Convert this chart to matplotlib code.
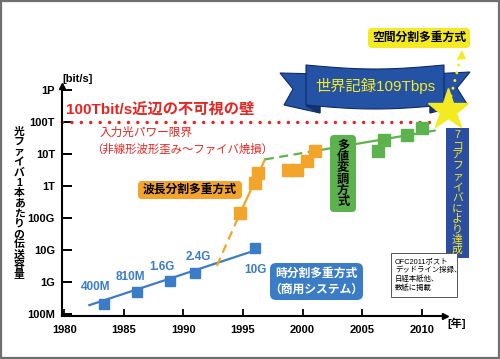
import numpy as np
import matplotlib
matplotlib.use('Agg')
import matplotlib.pyplot as plt
from matplotlib.patches import Polygon, FancyBboxPatch, Rectangle

plt.rcParams['font.family'] = ['Liberation Sans', 'Noto Sans CJK JP', 'DejaVu Sans']

# ---------------- data ----------------
tdm_years = [1983.3, 1986.1, 1988.9, 1991.0, 1996.0]
tdm_rates = [2.1e8, 5.0e8, 1.1e9, 1.9e9, 1.2e10]
tdm_labels = ['400M', '810M', '1.6G', '2.4G', '10G']
tdm_trend_years = [1982.1, 1995.7]
tdm_trend_rates = [1.9e8, 8.9e9]

wdm_years = [1994.75, 1996.0, 1996.3, 1998.8, 1999.5, 2000.35, 2001.05]
wdm_rates = [1.4e11, 1.2e12, 2.5e12, 3.2e12, 3.2e12, 5.9e12, 1.2e13]
wdm_dash_years = [1992.8, 1994.75]
wdm_dash_rates = [3.2e9, 1.4e11]
wdm_trend_years = [1994.75, 1996.85]
wdm_trend_rates = [1.4e11, 6.8e12]

mlm_years = [2006.3, 2006.85, 2008.75, 2010.0]
mlm_rates = [1.2e13, 2.75e13, 3.8e13, 6.3e13]
mlm_dash_years = [1996.85, 2001.0]
mlm_dash_rates = [6.8e12, 1.24e13]
mlm_trend_years = [2001.0, 2011.1]
mlm_trend_rates = [1.24e13, 5.4e13]

wall_years = [1979.8, 2010.9]
wall_rate = 1e14
record_year = 2012.2
record_rate = 2.4e14

year_ticks = [1980, 1985, 1990, 1995, 2000, 2005, 2010]
rate_ticks = [1e8, 1e9, 1e10, 1e11, 1e12, 1e13, 1e14, 1e15]
rate_tick_labels = ['100M', '1G', '10G', '100G', '1T', '10T', '100T', '1P']

# ---------------- style ----------------
blue = '#3B7CC6'
orange = '#F3A42A'
green = '#5CB34D'
red = '#E62420'
navy = '#2452A4'
yellow = '#F4EA22'

W, H = 500, 359
fig = plt.figure(figsize=(W / 100, H / 100), dpi=100)
ax = fig.add_axes([62 / W, 1 - 316 / H, 381 / W, 229.2 / H])
ax.set_yscale('log')
ax.set_xlim(1979.8, 2011.8)
ax.set_ylim(10 ** 7.94, 10 ** 15.1)
for s in ['top', 'right']:
    ax.spines[s].set_visible(False)
for s in ['left', 'bottom']:
    ax.spines[s].set_linewidth(1.5)
ax.set_xticks(year_ticks)
ax.set_xticklabels([str(y) for y in year_ticks], fontsize=8, fontweight='bold')
ax.set_yticks(rate_ticks)
ax.set_yticklabels(rate_tick_labels, fontsize=8, fontweight='bold')
ax.yaxis.set_minor_locator(matplotlib.ticker.NullLocator())
ax.tick_params(axis='y', direction='in', length=7, width=1.4, pad=5)
ax.tick_params(axis='x', direction='in', length=5, width=1.3, pad=6.5)
ax.plot(1.005, 0, marker='>', color='k', ms=5, transform=ax.transAxes, clip_on=False)
ax.plot(0, 1.005, marker='^', color='k', ms=5, transform=ax.transAxes, clip_on=False)

# wall line
ax.plot(wall_years, [wall_rate, wall_rate], color=red, lw=2.5,
        linestyle=(0, (0.01, 2.7)), dash_capstyle='round', clip_on=False, zorder=2)

# TDM
ax.plot(tdm_trend_years, tdm_trend_rates, color=blue, lw=1.6, zorder=2)
ax.plot(tdm_years, tdm_rates, 's', color=blue, ms=7.5, zorder=3)
offs = [(-8, 17), (-7, 15), (-8, 14), (3, 16), (1, -22)]
for yr, rt, lb, (dx, dy) in zip(tdm_years, tdm_rates, tdm_labels, offs):
    ax.annotate(lb, (yr, rt), xytext=(dx, dy), textcoords='offset pixels',
                ha='center', va='center', color=blue, fontsize=8.5, fontweight='bold')

# WDM
ax.plot(wdm_dash_years, wdm_dash_rates, color=orange, lw=1.6, linestyle=(0, (4, 2.5)), zorder=2)
ax.plot(wdm_trend_years, wdm_trend_rates, color=orange, lw=1.6, zorder=2)
ax.plot(wdm_years, wdm_rates, 's', color=orange, ms=8, zorder=3)

# multi-level modulation
ax.plot(mlm_dash_years, mlm_dash_rates, color=green, lw=1.6, linestyle=(0, (4, 2.5)), zorder=2)
ax.plot(mlm_trend_years, mlm_trend_rates, color=green, lw=1.6, zorder=2)
ax.plot(mlm_years, mlm_rates, 's', color=green, ms=8, zorder=3)

# ---------------- overlay (pixel coordinates) ----------------
ov = fig.add_axes([0, 0, 1, 1])
ov.set_xlim(0, W)
ov.set_ylim(H, 0)
ov.axis('off')
ov.set_zorder(3)

ov.add_patch(Rectangle((1, 1), W - 2, H - 2, fill=False, ec='#707070', lw=1.6))


def vtext(x, y0, s, pitch, **kw):
    for i, ch in enumerate(s):
        ov.text(x, y0 + i * pitch, ch, ha='center', va='center', **kw)


def rbox(x0, y0, w, h, fc, ec='none', r=4, lw=0.8):
    ov.add_patch(FancyBboxPatch((x0, y0), w, h, boxstyle=f'round,pad=0,rounding_size={r}',
                                fc=fc, ec=ec, lw=lw))


ov.text(77.5, 79.5, '[bit/s]', ha='center', va='center', fontsize=8, fontweight='bold')
ov.text(457, 323, '[年]', ha='center', va='center', fontsize=8, fontweight='bold')
vtext(19, 132, '光ファイバ1本あたりの伝送容量', 10.2, fontsize=7.8, fontweight='bold')

ov.text(66, 110, '100Tbit/s近辺の不可視の壁', ha='left', va='center', color=red,
        fontsize=11, fontweight='bold')
ov.text(100, 133, '入力光パワー限界', ha='left', va='center', color=red, fontsize=8.4)
ov.text(91, 149, '（非線形波形歪み～ファイバ焼損）', ha='left', va='center', color=red, fontsize=8.2)

# WDM label
rbox(138, 181, 104, 18, orange)
ov.text(190, 190, '波長分割多重方式', ha='center', va='center', fontsize=8.5, fontweight='bold')

# multi-level label
rbox(330, 135, 26, 77, green)
vtext(343, 146, '多値変調方式', 11.2, fontsize=8.8, fontweight='bold')

# TDM label
rbox(270, 263, 93, 37, blue, r=6)
ov.text(316.5, 273.5, '時分割多重方式', ha='center', va='center', color='white',
        fontsize=8.5, fontweight='bold')
ov.text(316.5, 290, '（商用システム）', ha='center', va='center', color='white',
        fontsize=8.5, fontweight='bold')

# 7-core label
ov.add_patch(Rectangle((446, 128), 23, 130, fc='#2B4EA2', ec='none'))
vtext(457.5, 135, '7コアファイバにより達成', 10.45, fontsize=7.8, color=yellow)

# note box
ov.add_patch(Rectangle((391, 253), 66, 44, fc='white', ec='#555555', lw=0.7))
ov.text(395, 275, 'OFC2011ポスト\nデッドライン採録、\n日経本紙他、\n数紙に掲載',
        ha='left', va='center', fontsize=5.3, linespacing=1.25)

# SDM label
rbox(368, 28, 102, 20, yellow)
ov.text(419, 38, '空間分割多重方式', ha='center', va='center', fontsize=8.5, fontweight='bold')

# banner
tail_l = [(280, 73), (293, 89), (284, 105), (320, 113), (320, 74)]
tail_r = [(470, 72), (457, 88), (467, 104), (430, 113), (430, 74)]
for t in (tail_l, tail_r):
    ov.add_patch(Polygon(t, closed=True, fc=navy, ec='#102a66', lw=0.8))
ov.add_patch(Polygon([(306, 106), (320, 113), (320, 104)], closed=True, fc='#15346f', ec='#102a66', lw=0.6))
ov.add_patch(Polygon([(444, 103), (430, 113), (430, 102)], closed=True, fc='#15346f', ec='#102a66', lw=0.6))
xs = np.linspace(306, 444, 30)
bow = 4 * np.sin(np.pi * (xs - 306) / 138)
top = 65 + bow
bot = 105 + bow
body = list(zip(xs, top)) + list(zip(xs[::-1], bot[::-1]))
ov.add_patch(Polygon(body, closed=True, fc=navy, ec='#102a66', lw=0.8))
ov.text(375, 86, '世界記録109Tbps', ha='center', va='center', color=yellow, fontsize=11)

# yellow dotted arrow to SDM
ov.plot([451, 460], [96, 60], color=yellow, lw=2.2, linestyle=(0, (0.01, 2.6)), dash_capstyle='round')
ov.add_patch(Polygon([(462, 50), (456.5, 60), (466, 59)], closed=True, fc=yellow, ec='none'))

# star (record)
ov.plot([record_year], [record_rate], marker='*', ms=31, color=yellow, mec=yellow,
        transform=ax.transData, clip_on=False)

fig.savefig('out.png', dpi=100)
